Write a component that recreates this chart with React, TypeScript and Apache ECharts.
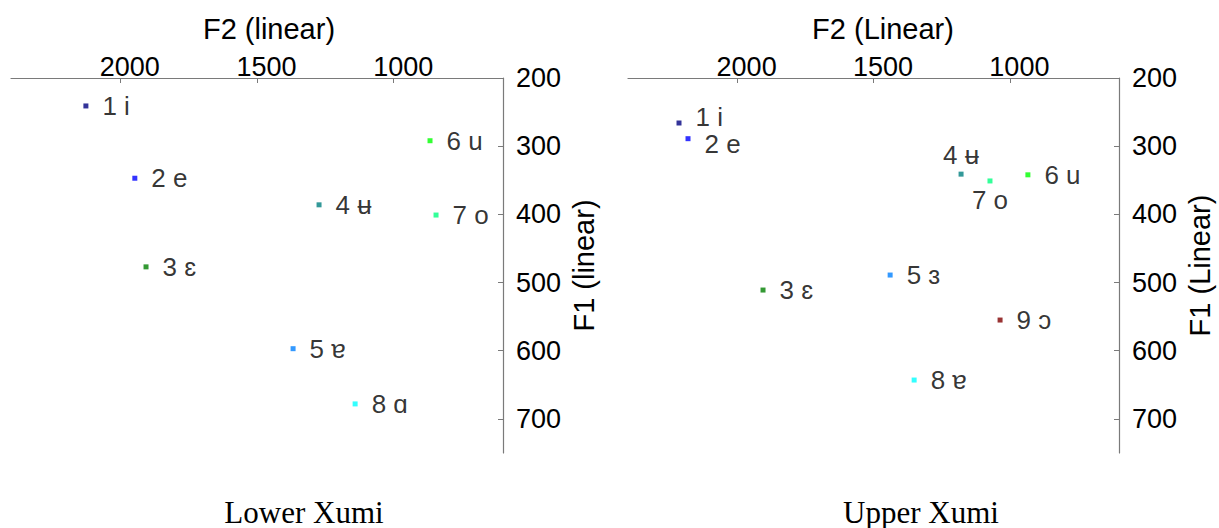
import React, { useEffect, useRef } from "react";
import * as echarts from "echarts";

const vowelColors = ["#000080", "#0000ff", "#008000", "#008080", "#0080ff", "#00ff00", "#00ff80", "#00ffff", "#800000"];

const lowerLabels = ["1 i", "2 e", "3 ɛ", "4 ʉ", "5 ɐ", "6 u", "7 o", "8 ɑ"];
const lowerF2 = [2126, 1947, 1906, 1273, 1368, 867, 845, 1141];
const lowerF1 = [241, 347, 477, 386, 597, 292, 401, 678];

const upperLabels = ["1 i", "2 e", "3 ɛ", "4 ʉ", "5 ɜ", "6 u", "7 o", "8 ɐ", "9 ɔ"];
const upperF2 = [2213, 2180, 1905, 1179, 1439, 934, 1073, 1351, 1036];
const upperF1 = [266, 289, 511, 341, 489, 342, 351, 643, 555];

// label placement (style only)
const upperLabelPos = ["right", "right", "right", "top", "right", "right", "bottom", "right", "right"];
const upperLabelOffset = [[0, -6], [0, 5], [0, 0], [0, 0], [0, 0], [0, 0], [0, 0], [0, 0], [0, 0]];

const f2Ticks = [1000, 1500, 2000];
const f1Ticks = [200, 300, 400, 500, 600, 700];

const SANS = '"Liberation Sans", Arial, sans-serif';
const SERIF = '"Liberation Serif", "Times New Roman", serif';
const AXIS_COLOR = "#7a7a7a";

function makeAxes(gridIndex: number, yName: string) {
  const axisLine = { lineStyle: { color: AXIS_COLOR, width: 1.2 } };
  const x = {
    type: "value",
    gridIndex,
    position: "top",
    inverse: true,
    min: 600,
    max: 2400,
    axisLine,
    axisTick: { inside: true, length: 5, customValues: f2Ticks, lineStyle: { color: AXIS_COLOR } },
    axisLabel: {
      customValues: f2Ticks,
      formatter: (v: number) => String(v),
      fontSize: 27,
      fontFamily: SANS,
      color: "#000",
      margin: -2,
      padding: [0, 0, 0, 19],
    },
    splitLine: { show: false },
  };
  const y = {
    type: "value",
    gridIndex,
    position: "right",
    inverse: true,
    min: 200,
    max: 750,
    name: yName,
    nameLocation: "middle",
    nameRotate: 90,
    nameGap: 66,
    nameTextStyle: { fontSize: 29, fontFamily: SANS, color: "#000" },
    axisLine,
    axisTick: { inside: true, length: 5, customValues: f1Ticks, lineStyle: { color: AXIS_COLOR } },
    axisLabel: {
      customValues: f1Ticks,
      formatter: (v: number) => String(v),
      fontSize: 27,
      fontFamily: SANS,
      color: "#000",
      margin: 13,
    },
    splitLine: { show: false },
  };
  return { x, y };
}

function makeSeries(
  idx: number,
  f2: number[],
  f1: number[],
  labels: string[],
  pos: string[] | null,
  offs: number[][] | null
) {
  return {
    type: "scatter",
    xAxisIndex: idx,
    yAxisIndex: idx,
    symbol: "rect",
    symbolSize: 5,
    data: f2.map((v, i) => {
      const p = pos ? pos[i] : "right";
      return {
        value: [v, f1[i]],
        name: labels[i],
        itemStyle: { color: vowelColors[i] },
        label: {
          show: true,
          formatter: labels[i],
          position: p,
          distance: p === "right" ? 14 : 4,
          offset: offs ? offs[i] : [0, 0],
          fontSize: 26,
          fontFamily: SANS,
          color: "#000",
        },
      };
    }),
  };
}

export default function App() {
  const ref = useRef<HTMLDivElement>(null);
  useEffect(() => {
    if (!ref.current) return;
    const chart = echarts.init(ref.current, null, { renderer: "svg" });
    const a = makeAxes(0, "F1 (linear)");
    const b = makeAxes(1, "F1 (Linear)");
    chart.setOption({
      animation: false,
      backgroundColor: "#ffffff",
      grid: [
        { left: 11, top: 78, width: 492, height: 375 },
        { left: 628, top: 78, width: 491, height: 375 },
      ],
      xAxis: [a.x, b.x],
      yAxis: [a.y, b.y],
      series: [
        makeSeries(0, lowerF2, lowerF1, lowerLabels, null, null),
        makeSeries(1, upperF2, upperF1, upperLabels, upperLabelPos, upperLabelOffset),
      ],
      graphic: [
        { type: "text", x: 269, y: 29, style: { text: "F2 (linear)", font: `29px ${SANS}`, fill: "#000", textAlign: "center", textVerticalAlign: "middle" } },
        { type: "text", x: 883, y: 29, style: { text: "F2 (Linear)", font: `29px ${SANS}`, fill: "#000", textAlign: "center", textVerticalAlign: "middle" } },
        { type: "text", x: 304, y: 512, style: { text: "Lower Xumi", font: `31px ${SERIF}`, fill: "#000", textAlign: "center", textVerticalAlign: "middle" } },
        { type: "text", x: 921, y: 512, style: { text: "Upper Xumi", font: `31px ${SERIF}`, fill: "#000", textAlign: "center", textVerticalAlign: "middle" } },
      ],
    });
    return () => chart.dispose();
  }, []);
  return <div ref={ref} style={{ position: "fixed", left: 0, top: 0, width: 1219, height: 528 }} />;
}
